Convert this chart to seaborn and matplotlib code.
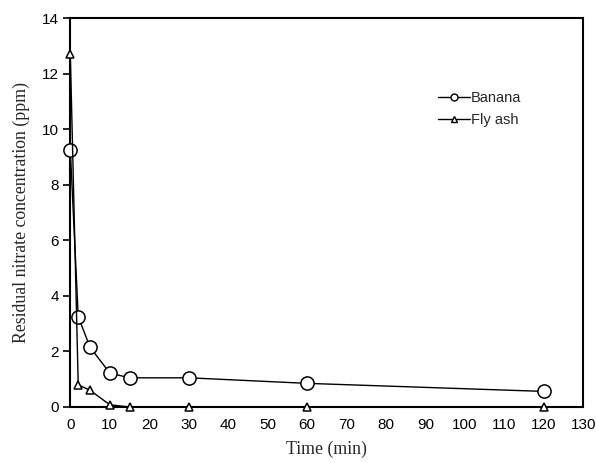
import matplotlib
matplotlib.use("Agg")
import matplotlib.pyplot as plt
import seaborn as sns
import pandas as pd
from matplotlib.lines import Line2D

time_min = [0, 2, 5, 10, 15, 30, 60, 120]
banana = [9.25, 3.25, 2.15, 1.22, 1.05, 1.05, 0.85, 0.56]
fly_ash = [12.7, 0.8, 0.6, 0.08, 0.0, 0.0, 0.0, 0.0]
series_names = ["Banana", "Fly ash"]
x_ticks = list(range(0, 131, 10))
y_ticks = list(range(0, 15, 2))

df = pd.DataFrame({
    "Time": time_min * 2,
    "Conc": banana + fly_ash,
    "Adsorbent": [series_names[0]] * len(time_min) + [series_names[1]] * len(time_min),
})

sns.set_style("white")
plt.rcParams["font.family"] = ["Liberation Sans", "DejaVu Sans"]

fig = plt.figure(figsize=(5.96, 4.63), dpi=100)
ax = fig.add_axes([0.118, 0.121, 0.861, 0.840])

sns.lineplot(data=df, x="Time", y="Conc", hue="Adsorbent", style="Adsorbent",
             markers={"Banana": "o", "Fly ash": "^"}, dashes=False,
             palette={"Banana": "black", "Fly ash": "black"},
             markersize=9.5, markerfacecolor="white", markeredgecolor="black",
             markeredgewidth=1.1, linewidth=1.0, ax=ax, legend=False)
# smaller triangles for the fly ash series; let markers sit over the spines
ax.lines[1].set_markersize(5.5)
for ln in ax.lines:
    ln.set_clip_on(False)
    ln.set_zorder(5)

handles = [
    Line2D([], [], color="black", lw=1.0, marker="o", markersize=5,
           markerfacecolor="white", markeredgecolor="black"),
    Line2D([], [], color="black", lw=1.0, marker="^", markersize=5,
           markerfacecolor="white", markeredgecolor="black"),
]
ax.legend(handles, series_names, loc="upper left", bbox_to_anchor=(0.69, 0.845),
          frameon=False, fontsize=10.5, handlelength=2.2, handletextpad=0.1,
          labelspacing=0.55)

ax.set_xlim(0, 130)
ax.set_ylim(0, 14)
ax.set_xticks(x_ticks)
ax.set_yticks(y_ticks)
ax.tick_params(axis="x", direction="in", length=5, width=1.2, labelsize=11,
               colors="black", pad=8)
ax.tick_params(axis="y", direction="out", length=5, width=1.2, labelsize=11,
               colors="black", left=True, pad=3)
for s in ax.spines.values():
    s.set_color("black")
    s.set_linewidth(1.5)

ax.set_xlabel("Time (min)", fontfamily="Liberation Serif", fontsize=12.8, labelpad=6)
ax.set_ylabel("Residual nitrate concentration (ppm)", fontfamily="Liberation Serif",
              fontsize=12.8, labelpad=9)

fig.savefig("out.png", dpi=100)
